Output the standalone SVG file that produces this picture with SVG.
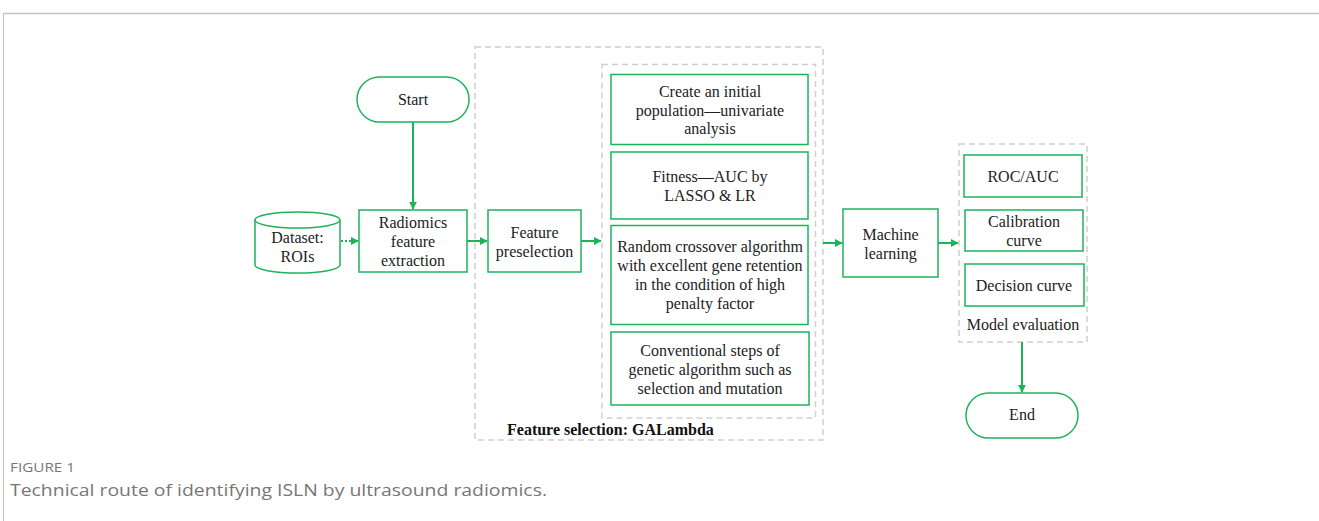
<svg xmlns="http://www.w3.org/2000/svg" width="1319" height="521" viewBox="0 0 1319 521">
<defs>
<style>
.node{fill:#fff;stroke:#1db35a;stroke-width:1.5}
.dash{fill:none;stroke:#cfcfcf;stroke-width:1.5;stroke-dasharray:6 4}
.t{font-family:"Liberation Serif","Times New Roman",serif;font-size:16px;fill:#222;text-anchor:middle}
.c{stroke:#1db35a;stroke-width:2;fill:none}
.cap{font-family:"Open Sans","Liberation Sans",sans-serif;fill:#777}
</style>
<marker id="ah" viewBox="0 0 10 10" refX="9" refY="5" markerWidth="4" markerHeight="4" orient="auto" markerUnits="strokeWidth">
<path d="M0,0 L10,5 L0,10 z" fill="#1db35a"/>
</marker>
</defs>
<rect x="0" y="0" width="1319" height="521" fill="#fff"/>
<g id="frame">
<line x1="3" y1="13.5" x2="1319" y2="13.5" stroke="#c4c4c4" stroke-width="1.5"/>
<line x1="3.5" y1="13" x2="3.5" y2="521" stroke="#c4c4c4" stroke-width="1"/>
</g>
<g id="group-feature-selection">
<rect class="dash" x="475" y="47" width="348" height="393"/>
<rect class="dash" x="602" y="64.5" width="213.5" height="353.5"/>
<text x="507" y="435" style="font-family:'Liberation Serif','Times New Roman',serif;font-size:16px;font-weight:bold;fill:#111">Feature selection: GALambda</text>
</g>
<g id="group-model-evaluation">
<rect class="dash" x="959" y="144" width="128" height="198"/>
<text class="t" x="1023" y="330">Model evaluation</text>
</g>
<g id="connectors">
<line class="c" x1="413" y1="122" x2="413" y2="209" marker-end="url(#ah)"/>
<line class="c" x1="341" y1="241" x2="358" y2="241" stroke-dasharray="2 2" marker-end="url(#ah)"/>
<line class="c" x1="467" y1="241" x2="487" y2="241" marker-end="url(#ah)"/>
<line class="c" x1="581" y1="241" x2="601" y2="241" marker-end="url(#ah)"/>
<line class="c" x1="823" y1="243" x2="842" y2="243" marker-end="url(#ah)"/>
<line class="c" x1="938" y1="243" x2="958" y2="243" marker-end="url(#ah)"/>
<line class="c" x1="1022" y1="342" x2="1022" y2="392" marker-end="url(#ah)"/>
</g>
<g id="start">
<rect class="node" x="357" y="77" width="112" height="45" rx="22.5"/>
<text class="t" x="413" y="105">Start</text>
</g>
<g id="dataset">
<path class="node" d="M255,220 L255,265 A42.5,8 0 0 0 340,265 L340,220"/>
<ellipse class="node" cx="297.5" cy="220" rx="42.5" ry="8"/>
<text class="t" x="297.5" y="243">Dataset:</text>
<text class="t" x="297.5" y="262">ROIs</text>
</g>
<g id="radiomics">
<rect class="node" x="359" y="210" width="108" height="62"/>
<text class="t" x="413" y="228">Radiomics</text>
<text class="t" x="413" y="247">feature</text>
<text class="t" x="413" y="266">extraction</text>
</g>
<g id="preselection">
<rect class="node" x="488" y="210" width="93" height="62"/>
<text class="t" x="534.5" y="238">Feature</text>
<text class="t" x="534.5" y="257">preselection</text>
</g>
<g id="ga-init">
<rect class="node" x="611" y="74.5" width="197" height="70"/>
<text class="t" x="710" y="97">Create an initial</text>
<text class="t" x="710" y="116">population—univariate</text>
<text class="t" x="710" y="134">analysis</text>
</g>
<g id="ga-fitness">
<rect class="node" x="611" y="152" width="197" height="67"/>
<text class="t" x="710" y="182">Fitness—AUC by</text>
<text class="t" x="710" y="201">LASSO &amp; LR</text>
</g>
<g id="ga-crossover">
<rect class="node" x="611" y="225.5" width="197" height="99"/>
<text class="t" x="710" y="252">Random crossover algorithm</text>
<text class="t" x="710" y="271">with excellent gene retention</text>
<text class="t" x="710" y="290">in the condition of high</text>
<text class="t" x="710" y="309">penalty factor</text>
</g>
<g id="ga-conventional">
<rect class="node" x="611" y="332" width="198" height="73"/>
<text class="t" x="710" y="356">Conventional steps of</text>
<text class="t" x="710" y="375">genetic algorithm such as</text>
<text class="t" x="710" y="394">selection and mutation</text>
</g>
<g id="ml">
<rect class="node" x="843" y="209" width="95" height="68"/>
<text class="t" x="890.5" y="240">Machine</text>
<text class="t" x="890.5" y="259">learning</text>
</g>
<g id="roc">
<rect class="node" x="964" y="155" width="118" height="42"/>
<text class="t" x="1023" y="182">ROC/AUC</text>
</g>
<g id="calibration">
<rect class="node" x="965" y="210" width="118" height="41"/>
<text class="t" x="1024" y="227">Calibration</text>
<text class="t" x="1024" y="246">curve</text>
</g>
<g id="decision">
<rect class="node" x="965" y="264" width="119" height="42"/>
<text class="t" x="1024" y="291">Decision curve</text>
</g>
<g id="end">
<rect class="node" x="966" y="393" width="112" height="45" rx="22.5"/>
<text class="t" x="1022" y="420">End</text>
</g>
<g id="caption">
<text class="cap" x="10" y="472" style="font-size:13px" textLength="65" lengthAdjust="spacingAndGlyphs">FIGURE 1</text>
<text class="cap" x="10" y="496" style="font-size:17px" textLength="537" lengthAdjust="spacingAndGlyphs">Technical route of identifying ISLN by ultrasound radiomics.</text>
</g>
</svg>
